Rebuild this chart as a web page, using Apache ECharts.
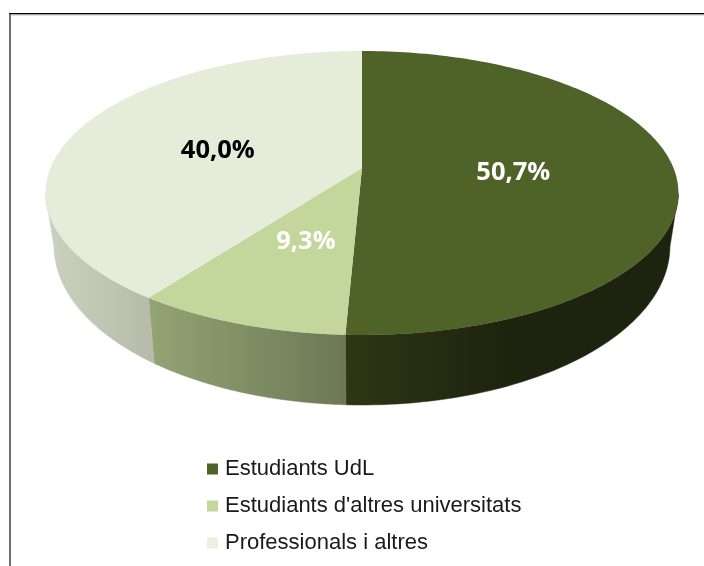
<!DOCTYPE html>
<html>
<head>
<meta charset="utf-8">
<style>html,body{margin:0;padding:0;background:#fff}#main{width:704px;height:566px}</style>
<script src="https://cdn.jsdelivr.net/npm/echarts@6/dist/echarts.min.js"></script>
</head>
<body>
<div id="main"></div>
<script>
var categories = ['Estudiants UdL', "Estudiants d'altres universitats", 'Professionals i altres'];
var values = [50.7, 9.3, 40.0];
var valueLabels = ['50,7%', '9,3%', '40,0%'];
var topColors = ['#4f6228', '#c3d69b', '#e6ecda'];
var legendColors = ['#4f6228', '#c3d69b', '#ebf1de'];
var wallFrom = ['#2f3614', '#94a474', '#ccd2bf'];
var wallTo = ['#1d230e', '#6c7855', '#b5bba8'];
var labelColors = ['#ffffff', '#ffffff', '#000000'];
var labelRadius = [0.485, 0.5, 0.5];

var chart = echarts.init(document.getElementById('main'), null, { renderer: 'canvas' });

// the tilted disc: unit circle through a perspective mapping
var apexX = 362, apexY = 168, persp = 0.176, scaleX = 311.5, scaleY = 137.6;
var topCy = 193, topRx = 316.5, topRy = 142, botCy = 246, botRx = 308, botRy = 159;

function project(frac, r) {
  var a = frac * 2 * Math.PI;
  var u = Math.sin(a) * r, v = -Math.cos(a) * r;
  var d = 1 - persp * v;
  return [apexX + scaleX * u / d, apexY + scaleY * v / d, v];
}
function lower(p) {
  return [apexX + (p[0] - apexX) * botRx / topRx, botCy + (p[1] - topCy) * botRy / topRy];
}

var total = values.reduce(function (s, v) { return s + v; }, 0);

function renderSlice(params, api) {
  var i = params.seriesIndex;
  var start = api.value(0) / total, end = start + api.value(1) / total;
  var rim = [];
  for (var k = 0; k <= 160; k++) {
    rim.push(project(start + (end - start) * k / 160, 1));
  }
  var front = rim.filter(function (p) { return p[2] >= persp; });
  var wall = front.map(function (p) { return [p[0], p[1]]; })
    .concat(front.map(lower).reverse());
  var top = [[apexX, apexY]].concat(rim.map(function (p) { return [p[0], p[1]]; }));
  var mid = project((start + end) / 2, labelRadius[i]);
  var wallFill = new echarts.graphic.LinearGradient(0, 0, 1, 0, [
    { offset: 0, color: wallFrom[i] },
    { offset: i === 0 ? 0.5 : 1, color: wallTo[i] },
    { offset: 1, color: wallTo[i] }
  ]);
  return {
    type: 'group',
    children: [
      {
        type: 'polygon',
        shape: { points: wall },
        style: { fill: wallFill, stroke: wallFill, lineWidth: 0.5 }
      },
      { type: 'polygon', shape: { points: top }, style: { fill: topColors[i] } },
      {
        type: 'text',
        z2: 10,
        style: {
          x: mid[0], y: mid[1] + 3, text: valueLabels[i], fill: labelColors[i],
          font: 'bold 25.5px "Open Sans", sans-serif', align: 'center', verticalAlign: 'middle'
        }
      }
    ]
  };
}

var series = [];
var running = 0;
for (var i = 0; i < categories.length; i++) {
  series.push({
    name: categories[i],
    type: 'custom',
    coordinateSystem: 'none',
    silent: true,
    animation: false,
    itemStyle: { color: legendColors[i] },
    renderItem: renderSlice,
    encode: { value: [0, 1] },
    data: [[running, values[i]]]
  });
  running += values[i];
}

var option = {
  backgroundColor: '#fff',
  animation: false,
  legend: {
    data: categories.map(function (c) { return { name: c, icon: 'rect' }; }),
    orient: 'vertical',
    left: 207,
    top: 458,
    padding: 0,
    itemWidth: 11,
    itemHeight: 11,
    itemGap: 15,
    selectedMode: false,
    textStyle: { fontFamily: '"Liberation Sans", Arial, sans-serif', fontSize: 22, color: '#1a1a1a', padding: [0, 0, 0, 2] }
  },
  graphic: [
    { type: 'line', silent: true, shape: { x1: 9, y1: 13.75, x2: 704, y2: 13.75 }, style: { stroke: '#000', lineWidth: 1.5 } },
    { type: 'line', silent: true, shape: { x1: 11, y1: 15, x2: 704, y2: 15 }, style: { stroke: '#c8c8c8', lineWidth: 1 } },
    { type: 'line', silent: true, shape: { x1: 10, y1: 14, x2: 10, y2: 566 }, style: { stroke: '#6e6e6e', lineWidth: 2 } }
  ],
  series: series
};

chart.setOption(option);
window.addEventListener('resize', chart.resize);
</script>
</body>
</html>
